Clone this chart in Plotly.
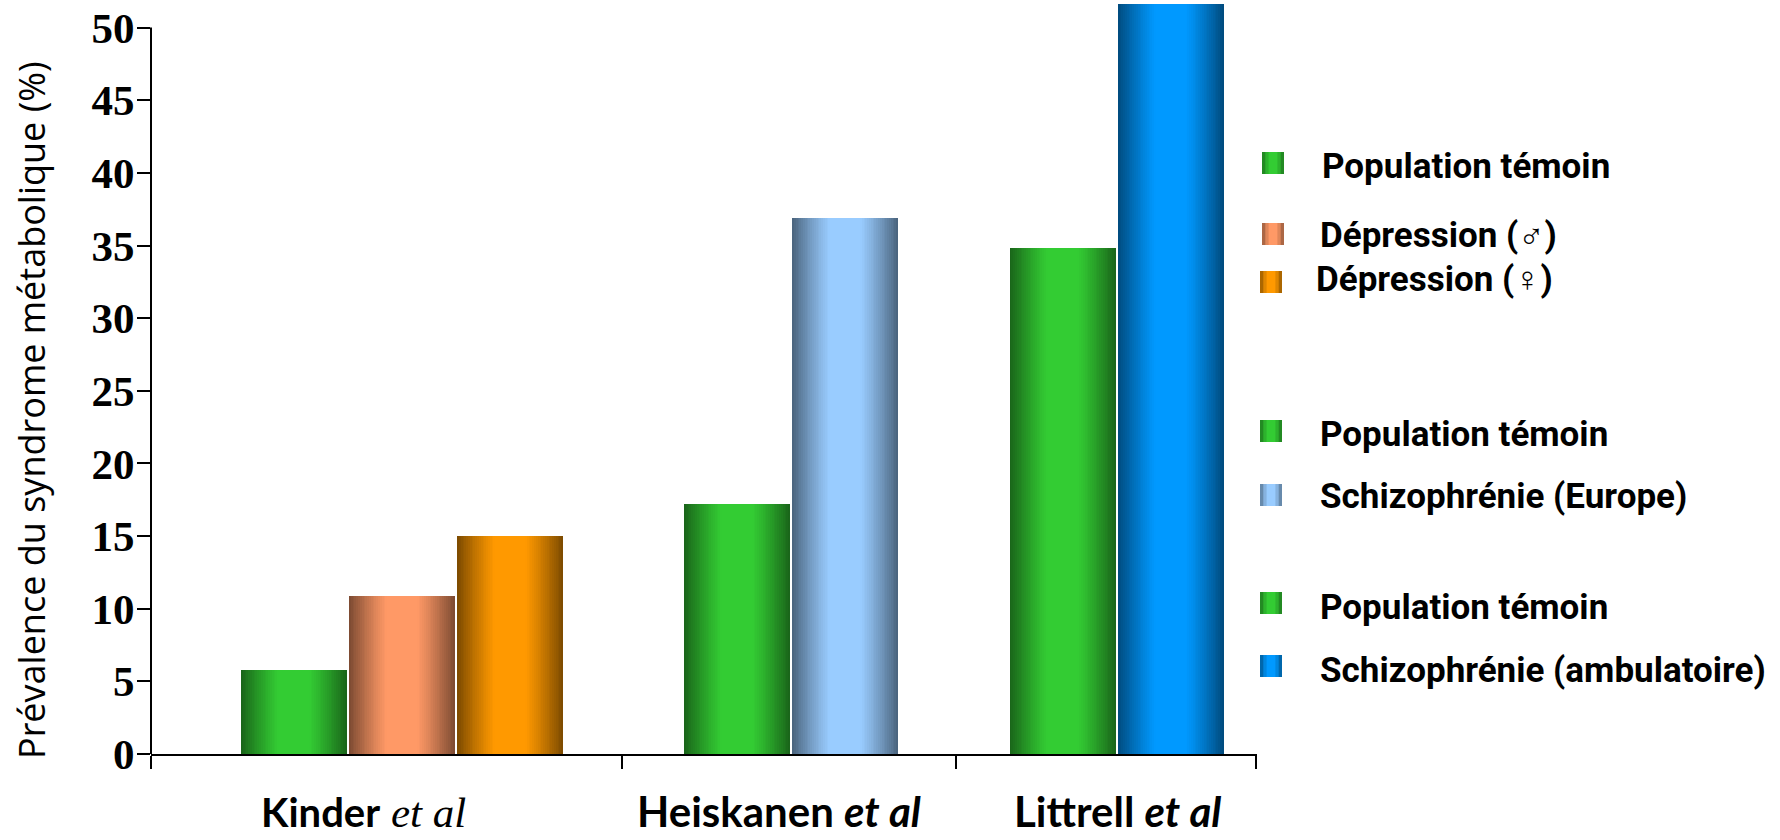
import plotly.graph_objects as go

# ---------------- data ----------------
GROUPS = ["Kinder", "Heiskanen", "Littrell"]
BAR_LABELS = [
    "Population témoin", "Dépression (♂)", "Dépression (♀)",
    "Population témoin", "Schizophrénie (Europe)",
    "Population témoin", "Schizophrénie (ambulatoire)",
]
BAR_GROUP = [0, 0, 0, 1, 1, 2, 2]
VALUES = [5.8, 10.9, 15.0, 17.2, 36.9, 34.8, 51.6]
Y_TICKS = [0, 5, 10, 15, 20, 25, 30, 35, 40, 45, 50]
Y_TITLE = "Prévalence du syndrome métabolique (%)"

# ---------------- style / layout ----------------
CENTER_COLORS = ["#33CC33", "#FF9966", "#FF9900", "#33CC33", "#99CCFF", "#33CC33", "#0099FF"]
EDGE_COLORS = ["#1A661A", "#7F4C33", "#7F4C00", "#1A661A", "#4C6680", "#1A661A", "#004C80"]

W, H = 1780, 840
PL, PR = 151, 1257          # plot area left/right px
PB = 754                    # baseline px
UNIT = 106.0                # px per x unit
X_MAX = (PR - PL) / UNIT
Y_MAX = 51.9

GROUP_CENTERS = [2.368, 6.038, 9.11]
BOUNDARIES = [0, 4.443, 7.594, (PR - PL) / UNIT - 0.01]
LABEL_POS = [2.0, 5.92, 9.12]
PITCH = 1.02
BAR_W = 1.0


def hex2rgb(h):
    h = h.lstrip("#")
    return tuple(int(h[i:i + 2], 16) for i in (0, 2, 4))


def mix(c1, c2, t):
    a, b = hex2rgb(c1), hex2rgb(c2)
    return "rgb(%d,%d,%d)" % tuple(round(a[i] + (b[i] - a[i]) * t) for i in range(3))


def brightness(d):
    if d <= 0.3:
        return 1.0
    return max(0.0, 1 - ((d - 0.3) / 0.7) ** 1.15)


def pxx(px):
    return (px - PL) / (PR - PL)


def pxy(py):
    return (PB - py) / PB


# bar x positions from group layout
X = []
for i, g in enumerate(BAR_GROUP):
    members = [k for k, gg in enumerate(BAR_GROUP) if gg == g]
    j = members.index(i)
    X.append(GROUP_CENTERS[g] + (j - (len(members) - 1) / 2) * PITCH)

fig = go.Figure()

N_LAYERS = 22
for k in range(N_LAYERS):
    frac = 1 - k / (N_LAYERS - 1) * 0.72
    t = brightness(frac)
    colors = [mix(EDGE_COLORS[i], CENTER_COLORS[i], t) for i in range(len(VALUES))]
    fig.add_trace(go.Bar(
        x=X, y=VALUES, width=[BAR_W * frac] * len(VALUES),
        marker=dict(color=colors, line=dict(width=0)),
        showlegend=False,
        hovertext=BAR_LABELS, hoverinfo="text+y" if k == 0 else "skip",
    ))

# y-axis line from 0 to top tick
fig.add_shape(type="line", xref="paper", yref="y", x0=0, x1=0, y0=0, y1=max(Y_TICKS),
              line=dict(color="black", width=2))

annotations = []
# y title
annotations.append(dict(
    text=Y_TITLE, textangle=-90, xref="paper", yref="paper",
    x=pxx(32), y=pxy(410), xanchor="center", yanchor="middle", showarrow=False,
    font=dict(family="Open Sans", size=36, color="black"),
))

# category labels
LABEL_TEXT = [
    "<span style='font-size:40px'><b>Kinder</b></span> "
    "<span style='font-family:Liberation Serif;font-size:43px'><i>et al</i></span>",
    "<b>Heiskanen <i>et al</i></b>",
    "<b>Littrell <i>et al</i></b>",
]
for g in range(len(GROUPS)):
    annotations.append(dict(
        text=LABEL_TEXT[g], xref="x", yref="paper", x=LABEL_POS[g], y=pxy(811),
        xanchor="center", yanchor="middle", showarrow=False,
        font=dict(family="Lato", size=42, color="black"),
    ))

# custom legend: (bar index, square left, square top, text left, text middle)
LEGEND_LAYOUT = [
    (0, 1262, 152, 1320, 166),
    (1, 1262, 223, 1318, 235),
    (2, 1260, 271, 1314, 280),
    (3, 1260, 420, 1318, 434),
    (4, 1260, 484, 1318, 496),
    (5, 1260, 592, 1318, 607),
    (6, 1260, 655, 1318, 670),
]
SQ = 22
for bi, sx, sy, tx, ty in LEGEND_LAYOUT:
    for f, t in [(1.0, 0.35), (0.7, 0.75), (0.4, 1.0)]:
        inset = SQ * (1 - f) / 2
        fig.add_shape(type="rect", xref="paper", yref="paper",
                      x0=pxx(sx + inset), x1=pxx(sx + SQ - inset),
                      y0=pxy(sy + SQ), y1=pxy(sy),
                      fillcolor=mix(EDGE_COLORS[bi], CENTER_COLORS[bi], t), line=dict(width=0))
    annotations.append(dict(
        text=BAR_LABELS[bi], xref="paper", yref="paper", x=pxx(tx), y=pxy(ty),
        xanchor="left", yanchor="middle", showarrow=False,
        font=dict(family="Roboto, sans-serif", size=35, color="black", weight="bold"),
    ))

fig.update_layout(
    width=W, height=H,
    margin=dict(l=PL, r=W - PR, t=0, b=H - PB, pad=0),
    paper_bgcolor="white", plot_bgcolor="white",
    barmode="overlay", bargap=0,
    showlegend=False,
    annotations=annotations,
    xaxis=dict(
        range=[0, X_MAX], showgrid=False, zeroline=False,
        showline=True, linecolor="black", linewidth=2,
        tickmode="array", tickvals=BOUNDARIES, ticktext=[""] * len(BOUNDARIES),
        ticks="outside", ticklen=13, tickwidth=2, tickcolor="black",
        showticklabels=False,
    ),
    yaxis=dict(
        range=[0, Y_MAX], showgrid=False, zeroline=False, showline=False,
        tickmode="array", tickvals=Y_TICKS, ticktext=[str(v) for v in Y_TICKS],
        ticks="outside", ticklen=13, tickwidth=2, tickcolor="black",
        ticklabelstandoff=-6,
        tickfont=dict(family="Liberation Serif", size=43, color="black", weight="bold"),
    ),
)

fig.write_html("out.html")
